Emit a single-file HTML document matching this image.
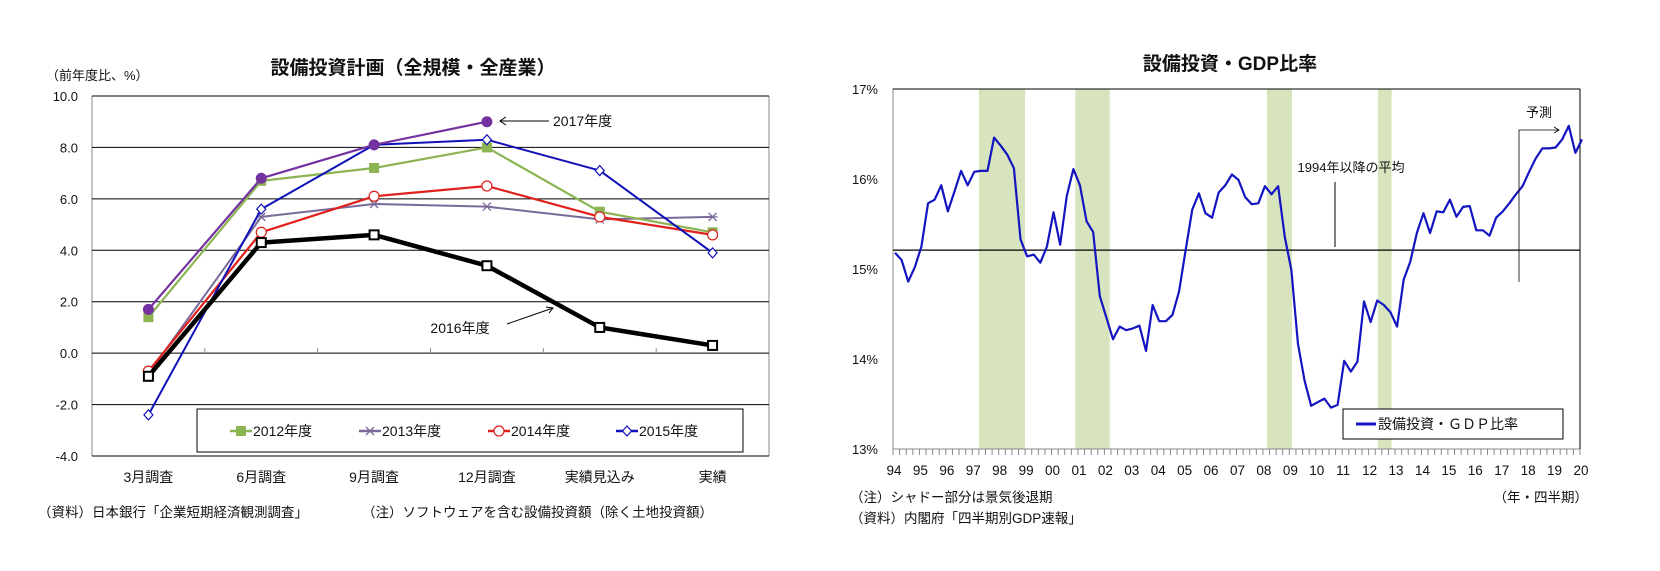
<!DOCTYPE html>
<html><head><meta charset="utf-8">
<style>
html,body{margin:0;padding:0;background:#fff;width:1660px;height:571px;overflow:hidden}
svg{display:block;font-family:"Liberation Sans","Noto Sans CJK JP",sans-serif}
</style></head>
<body>
<svg id="c" width="1660" height="571" viewBox="0 0 1660 571" xmlns="http://www.w3.org/2000/svg">
</svg>
<script>
// ---- Left chart data ----
const catLabels = ["3月調査","6月調査","9月調査","12月調査","実績見込み","実績"];
const yTicksL = [10,8,6,4,2,0,-2,-4];
const s2012 = [1.4,6.7,7.2,8.0,5.5,4.7];
const s2013 = [-0.8,5.3,5.8,5.7,5.2,5.3];
const s2014 = [-0.7,4.7,6.1,6.5,5.3,4.6];
const s2015 = [-2.4,5.6,8.1,8.3,7.1,3.9];
const s2016 = [-0.9,4.3,4.6,3.4,1.0,0.3];
const s2017 = [1.7,6.8,8.1,9.0];
// ---- Right chart data ----
const ratio = [15.18,15.10,14.86,15.02,15.25,15.73,15.77,15.93,15.64,15.86,16.09,15.93,16.08,16.09,16.09,16.46,16.37,16.27,16.12,15.33,15.14,15.16,15.07,15.25,15.63,15.27,15.81,16.11,15.93,15.53,15.41,14.70,14.46,14.22,14.36,14.32,14.34,14.37,14.09,14.60,14.42,14.42,14.49,14.75,15.21,15.66,15.84,15.62,15.57,15.85,15.93,16.05,15.99,15.80,15.72,15.73,15.92,15.83,15.92,15.36,14.99,14.17,13.76,13.48,13.52,13.56,13.46,13.49,13.98,13.86,13.97,14.64,14.41,14.65,14.60,14.52,14.36,14.88,15.08,15.40,15.62,15.40,15.64,15.63,15.77,15.58,15.69,15.70,15.43,15.43,15.37,15.57,15.64,15.73,15.83,15.92,16.08,16.23,16.34,16.34,16.35,16.44,16.59,16.29,16.44];
const startYear = 1994;
const avgRatio = 15.21;
const recessionStart = [1997.25,2000.9,2008.15,2012.35];
const recessionEnd = [1999.0,2002.2,2009.1,2012.87];
const yearLabels = ["94","95","96","97","98","99","00","01","02","03","04","05","06","07","08","09","10","11","12","13","14","15","16","17","18","19","20"];
const yTicksR = [17,16,15,14,13];

const NS="http://www.w3.org/2000/svg";
const svg=document.getElementById('c');
function mk(tag,attrs,parent){const e=document.createElementNS(NS,tag);for(const k in attrs)e.setAttribute(k,attrs[k]);(parent||svg).appendChild(e);return e;}
function txt(s,x,y,attrs,parent){const e=mk('text',Object.assign({x:x,y:y,'font-size':13,fill:'#111'},attrs||{}),parent);e.textContent=s;return e;}

// ===== LEFT =====
const L={x0:92,x1:769,yTop:96,yBot:456,vmax:10,vmin:-4};
const lx=i=>L.x0+(L.x1-L.x0)/catLabels.length*(i+0.5);
const ly=v=>L.yTop+(L.vmax-v)/(L.vmax-L.vmin)*(L.yBot-L.yTop);
let t=txt("設備投資計画（全規模・全産業）",413,74,{'font-size':19,'font-weight':'bold','text-anchor':'middle'});

t=txt("（前年度比、%）",46,80,{'font-size':13});

let e=mk('line',{x1:L.x0,y1:L.yTop,x2:L.x0,y2:L.yBot,stroke:'#888','stroke-width':1});

e=mk('line',{x1:L.x1,y1:L.yTop,x2:L.x1,y2:L.yBot,stroke:'#888','stroke-width':1});

yTicksL.forEach(v=>{
  const g=mk('line',{x1:L.x0,y1:ly(v),x2:L.x1,y2:ly(v),stroke:'#000','stroke-width':1});
  
  const tl=txt(v.toFixed(1),78,ly(v)+5,{'text-anchor':'end','font-size':13});
  
});
for(let i=1;i<catLabels.length;i++){
  const x=L.x0+(L.x1-L.x0)/catLabels.length*i;
  const tk=mk('line',{x1:x,y1:ly(0)-5,x2:x,y2:ly(0),stroke:'#888'});
  
}
catLabels.forEach((c,i)=>{
  const tl=txt(c,lx(i),482,{'text-anchor':'middle','font-size':14});
  
});
function marker(type,x,y,col,g){
  if(type==='sq') return mk('rect',{x:x-4.5,y:y-4.5,width:9,height:9,fill:col,stroke:col},g);
  if(type==='hsq') return mk('rect',{x:x-4.5,y:y-4.5,width:9,height:9,fill:'#fff',stroke:'#000','stroke-width':2},g);
  if(type==='circ') return mk('circle',{cx:x,cy:y,r:5,fill:col,stroke:col},g);
  if(type==='hcirc') return mk('circle',{cx:x,cy:y,r:5,fill:'#fff',stroke:col,'stroke-width':1.2},g);
  if(type==='dia') return mk('path',{d:`M${x} ${y-5}L${x+4.5} ${y}L${x} ${y+5}L${x-4.5} ${y}Z`,fill:'#fff',stroke:col,'stroke-width':1.2},g);
  if(type==='star') return mk('path',{d:`M${x-4} ${y-4}L${x+4} ${y+4}M${x-4} ${y+4}L${x+4} ${y-4}M${x-5} ${y}L${x+5} ${y}`,stroke:col,'stroke-width':1.3,fill:'none'},g);
}
const seriesL=[
 {name:'series-2013',data:s2013,col:'#7a6a9a',w:2,m:'star'},
 {name:'series-2012',data:s2012,col:'#8cb453',w:2.2,m:'sq'},
 {name:'series-2014',data:s2014,col:'#e0201b',w:2.2,m:'hcirc'},
 {name:'series-2015',data:s2015,col:'#1010b8',w:2,m:'dia'},
 {name:'series-2016',data:s2016,col:'#000',w:4.5,m:'hsq'},
 {name:'series-2017',data:s2017,col:'#7432a0',w:2.2,m:'circ'}
];
seriesL.forEach(s=>{
  const g=mk('g',{});
  
  const p=mk('polyline',{points:s.data.map((v,i)=>lx(i)+','+ly(v)).join(' '),fill:'none',stroke:s.col,'stroke-width':s.w,'stroke-linejoin':'round'},g);
  
  s.data.forEach((v,i)=>{const m=marker(s.m,lx(i),ly(v),s.col,g);
    });
});
// annotations
e=mk('line',{x1:549,y1:121,x2:500,y2:121,stroke:'#000','stroke-width':1});

e=mk('path',{d:'M506 117L500 121L506 125',fill:'none',stroke:'#000'});

t=txt("2017年度",553,126,{'font-size':14});

t=txt("2016年度",460,333,{'font-size':14,'text-anchor':'middle'});

e=mk('line',{x1:507,y1:324,x2:553,y2:308,stroke:'#000'});

e=mk('path',{d:'M546 307L553 308L549 313',fill:'none',stroke:'#000'});

// legend
const lg=mk('g',{});

mk('rect',{x:197,y:409,width:546,height:43,fill:'#fff',stroke:'#000'},lg);
const legItems=[['2012年度','#8cb453','sq',230],['2013年度','#7a6a9a','star',359],['2014年度','#e0201b','hcirc',488],['2015年度','#1010b8','dia',616]];
legItems.forEach(it=>{
  const g=mk('g',{},lg);
  
  mk('line',{x1:it[3],y1:431,x2:it[3]+22,y2:431,stroke:it[1],'stroke-width':2.5},g);
  marker(it[2],it[3]+11,431,it[1],g);
  txt(it[0],it[3]+23,436,{'font-size':14},g);
});
t=txt("（資料）日本銀行「企業短期経済観測調査」",38,517,{'font-size':13.5});

t=txt("（注）ソフトウェアを含む設備投資額（除く土地投資額）",362,517,{'font-size':13.5});


// ===== RIGHT =====
const R={x0:893,x1:1580,yTop:89,yBot:449,vmax:17,vmin:13,y0:1994,y1:2020};
const rx=yr=>R.x0+(yr-R.y0)/(R.y1-R.y0)*(R.x1-R.x0);
const ry=v=>R.yTop+(R.vmax-v)/(R.vmax-R.vmin)*(R.yBot-R.yTop);
t=txt("設備投資・GDP比率",1230,70,{'font-size':19,'font-weight':'bold','text-anchor':'middle'});

recessionStart.forEach((s,i)=>{
  const r=mk('rect',{x:rx(s),y:R.yTop,width:rx(recessionEnd[i])-rx(s),height:R.yBot-R.yTop,fill:'#d7e4bd'});
  
});
e=mk('rect',{x:R.x0,y:R.yTop,width:R.x1-R.x0,height:R.yBot-R.yTop,fill:'none',stroke:'#888'});

e=mk('line',{x1:R.x0,y1:R.yTop,x2:R.x1,y2:R.yTop,stroke:'#000'});

e=mk('line',{x1:R.x1,y1:R.yTop,x2:R.x1,y2:R.yBot,stroke:'#000'});

yTicksR.forEach(v=>{
  const tl=txt(v+'%',878,ry(v)+5,{'text-anchor':'end','font-size':13});
  
});
for(let q=0;q<=(R.y1-R.y0)*4;q++){
  const x=rx(R.y0+q/4);
  const tk=mk('line',{x1:x,y1:R.yBot,x2:x,y2:R.yBot+6,stroke:'#888'});
  
}
yearLabels.forEach((l,i)=>{
  const tl=txt(l,rx(R.y0+i)+1,475,{'text-anchor':'middle','font-size':13.5});
  
});
e=mk('line',{x1:R.x0,y1:ry(avgRatio),x2:R.x1,y2:ry(avgRatio),stroke:'#000','stroke-width':1.2});

e=mk('polyline',{points:ratio.map((v,i)=>(rx(startYear+i/4)+2)+','+ry(v)).join(' '),fill:'none',stroke:'#1414c0','stroke-width':2.2,'stroke-linejoin':'round'});

t=txt("1994年以降の平均",1351,172,{'font-size':13,'text-anchor':'middle'});

e=mk('line',{x1:1335,y1:182,x2:1335,y2:247,stroke:'#000'});

t=txt("予測",1539,117,{'font-size':13,'text-anchor':'middle'});

e=mk('path',{d:'M1519 282L1519 130L1559 130M1554 127L1559 130L1554 133',fill:'none',stroke:'#000','stroke-width':0.8});

const rl=mk('g',{});

mk('rect',{x:1343,y:409,width:220,height:30,fill:'#fff',stroke:'#000'},rl);
mk('line',{x1:1356,y1:424,x2:1376,y2:424,stroke:'#1414c0','stroke-width':3},rl);
txt("設備投資・ＧＤＰ比率",1378,429,{'font-size':14},rl);
t=txt("（注）シャドー部分は景気後退期",850,502,{'font-size':13.5});

t=txt("（資料）内閣府「四半期別GDP速報」",850,523,{'font-size':13.5});

t=txt("（年・四半期）",1588,502,{'font-size':13.5,'text-anchor':'end'});

</script>
</body></html>
